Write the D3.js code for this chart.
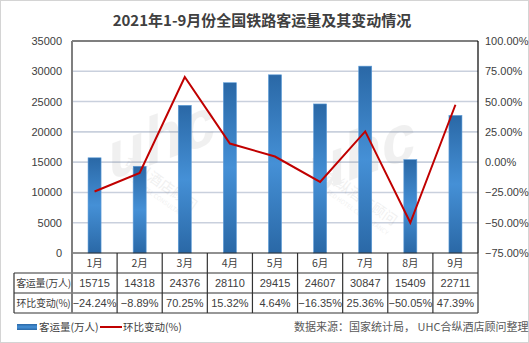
<!DOCTYPE html>
<html>
<head>
<meta charset="utf-8">
<script src="https://cdn.jsdelivr.net/npm/d3@7/dist/d3.min.js"></script>
<style>
  html, body { margin: 0; padding: 0; background: #fff; }
  svg { display: block; font-family: "Noto Sans CJK SC", "Noto Sans", sans-serif; }
</style>
</head>
<body>
<svg id="chart" width="529" height="343"></svg>
<script>
// Monthly national railway passenger volume, Jan–Sep 2021
const months = ["1月", "2月", "3月", "4月", "5月", "6月", "7月", "8月", "9月"];
const volume = [15715, 14318, 24376, 28110, 29415, 24607, 30847, 15409, 22711];
const change = [-24.24, -8.89, 70.25, 15.32, 4.64, -16.35, 25.36, -50.05, 47.39];
const leftTicks = [0, 5000, 10000, 15000, 20000, 25000, 30000, 35000];
const rightTicks = [-75, -50, -25, 0, 25, 50, 75, 100];
const seriesNames = ["客运量(万人)", "环比变动(%)"];
const title = "2021年1-9月份全国铁路客运量及其变动情况";
const source = "数据来源：国家统计局， UHC合纵酒店顾问整理";

const svg = d3.select("#chart");
const W = 529, H = 343;
const plot = { left: 72, right: 478, top: 41, bottom: 253 };
const tableLeft = 14, rowH = 20;
const textColor = "#404040";
const numFont = "'Liberation Sans', Arial, sans-serif";

// outer frame
svg.append("rect").attr("x", 0.5).attr("y", 0.5).attr("width", W - 1).attr("height", H - 1)
  .attr("fill", "#fff").attr("stroke", "#d4d4d4");

const defs = svg.append("defs");
const grad = defs.append("linearGradient").attr("id", "barGrad")
  .attr("x1", 0).attr("y1", 0).attr("x2", 0).attr("y2", 1);
grad.append("stop").attr("offset", "0%").attr("stop-color", "#2a68a6");
grad.append("stop").attr("offset", "50%").attr("stop-color", "#4590d6");
grad.append("stop").attr("offset", "100%").attr("stop-color", "#2a68a6");

const x = d3.scaleBand().domain(months).range([plot.left, plot.right]).paddingInner(0).paddingOuter(0);
const yL = d3.scaleLinear().domain([0, 35000]).range([plot.bottom, plot.top]);
const yR = d3.scaleLinear().domain([-75, 100]).range([plot.bottom, plot.top]);

// title
svg.append("text").attr("x", 262).attr("y", 26).attr("text-anchor", "middle")
  .attr("font-size", 15).attr("font-weight", "bold").attr("fill", textColor).text(title);

// horizontal gridlines
svg.append("g").selectAll("line").data(leftTicks.filter(d => d > 0 && d < 35000)).join("line")
  .attr("x1", plot.left).attr("x2", plot.right)
  .attr("y1", d => yL(d)).attr("y2", d => yL(d))
  .attr("stroke", "#c9d0dd").attr("stroke-width", 1.6);

// faint watermark marks
function watermark(cx, cy) {
  const g = svg.append("g").attr("transform", `translate(${cx},${cy})`).attr("opacity", 0.09);
  g.append("text").attr("text-anchor", "middle").attr("font-size", 64).attr("font-style", "italic")
    .attr("font-weight", "bold").attr("font-family", numFont)
    .attr("fill", "#666").attr("transform", "rotate(-20) skewX(-10)").text("uhc");
  const s = g.append("g").attr("transform", "rotate(35)");
  s.append("text").attr("x", 10).attr("y", 26).attr("text-anchor", "middle").attr("font-size", 14)
    .attr("fill", "#666").text("合纵酒店顾问");
  s.append("text").attr("x", 10).attr("y", 37).attr("text-anchor", "middle").attr("font-size", 6)
    .attr("fill", "#666").text("UNITED HOTEL CONSULTANCY");
}
watermark(165, 160);
watermark(365, 175);

// bars
const barW = 13;
svg.append("g").selectAll("rect").data(months).join("rect")
  .attr("x", d => x(d) + x.bandwidth() / 2 - barW / 2)
  .attr("width", barW)
  .attr("y", (d, i) => yL(volume[i]))
  .attr("height", (d, i) => plot.bottom - yL(volume[i]))
  .attr("fill", "url(#barGrad)")
  .attr("stroke", "#5b9bd8").attr("stroke-width", 0.6);

// month-on-month change line
const line = d3.line().x((d, i) => x(months[i]) + x.bandwidth() / 2).y(d => yR(d));
svg.append("path").datum(change).attr("d", line)
  .attr("fill", "none").attr("stroke", "#c00000").attr("stroke-width", 2).attr("stroke-linejoin", "miter");

// plot frame: top and right black, left axis gray
svg.append("line").attr("x1", plot.left).attr("x2", plot.right).attr("y1", plot.top).attr("y2", plot.top)
  .attr("stroke", "#000").attr("stroke-width", 1.2);
svg.append("line").attr("x1", plot.right).attr("x2", plot.right).attr("y1", plot.top).attr("y2", plot.bottom)
  .attr("stroke", "#000").attr("stroke-width", 1.2);

// left axis
const axL = svg.append("g").attr("transform", `translate(${plot.left - 10},0)`)
  .call(d3.axisLeft(yL).tickValues(leftTicks).tickSize(0).tickPadding(0).tickFormat(d3.format("d")));
axL.select(".domain").remove();
axL.selectAll("text").attr("font-size", 11).attr("fill", textColor).attr("font-family", numFont);

// right axis
const axR = svg.append("g").attr("transform", `translate(${plot.right + 7},0)`)
  .call(d3.axisRight(yR).tickValues(rightTicks).tickSize(0).tickPadding(0).tickFormat(d => d3.format(".2f")(d) + "%"));
axR.select(".domain").remove();
axR.selectAll("text").attr("font-size", 11).attr("fill", textColor).attr("font-family", numFont);

// data table beneath the plot
const tTop = plot.bottom;
const tbl = svg.append("g");
const rows = [
  { label: null, vals: months },
  { label: seriesNames[0], vals: volume.map(String) },
  { label: seriesNames[1], vals: change.map(v => d3.format(".2f")(v) + "%") }
];
rows.forEach((r, ri) => {
  const cy = tTop + ri * rowH + rowH / 2;
  tbl.append("g").selectAll("text").data(r.vals).join("text")
    .attr("x", (d, i) => x(months[i]) + x.bandwidth() / 2)
    .attr("y", cy).attr("dy", "0.36em").attr("text-anchor", "middle")
    .attr("font-size", ri === 0 ? 10.5 : 11).attr("fill", textColor)
    .attr("font-family", ri === 0 ? null : numFont).text(d => d);
  if (r.label) {
    tbl.append("text").attr("x", (tableLeft + plot.left) / 2 + 0.5).attr("y", cy).attr("dy", "0.36em")
      .attr("text-anchor", "middle").attr("font-size", 10).attr("fill", textColor)
      .attr("letter-spacing", -0.3).text(r.label);
  }
});
// table grid
const gridColor = "#333";
[1, 2, 3].forEach(k => {
  tbl.append("line").attr("x1", tableLeft).attr("x2", plot.right)
    .attr("y1", tTop + k * rowH).attr("y2", tTop + k * rowH)
    .attr("stroke", gridColor).attr("stroke-width", 1.2);
});
tbl.append("line").attr("x1", tableLeft).attr("x2", tableLeft)
  .attr("y1", tTop + rowH).attr("y2", tTop + 3 * rowH).attr("stroke", gridColor).attr("stroke-width", 1.2);
months.slice(1).forEach(m => {
  tbl.append("line").attr("x1", x(m)).attr("x2", x(m))
    .attr("y1", tTop).attr("y2", tTop + 3 * rowH).attr("stroke", gridColor).attr("stroke-width", 1.2);
});
tbl.append("line").attr("x1", plot.right).attr("x2", plot.right)
  .attr("y1", tTop).attr("y2", tTop + 3 * rowH).attr("stroke", gridColor).attr("stroke-width", 1.2);
// category baseline
tbl.append("line").attr("x1", plot.left).attr("x2", plot.right).attr("y1", tTop).attr("y2", tTop)
  .attr("stroke", "#222").attr("stroke-width", 1.2);
// left value axis line, continuing through the table
svg.append("line").attr("x1", plot.left).attr("x2", plot.left).attr("y1", plot.top).attr("y2", tTop + 3 * rowH)
  .attr("stroke", "#7f7f7f").attr("stroke-width", 2);

// legend
const lgY = 327;
svg.append("rect").attr("x", 17).attr("y", lgY - 3).attr("width", 20).attr("height", 6).attr("fill", "url(#barGrad)");
svg.append("text").attr("x", 39).attr("y", lgY).attr("dy", "0.36em").attr("font-size", 10.5)
  .attr("fill", textColor).text(seriesNames[0]);
svg.append("line").attr("x1", 100).attr("x2", 122).attr("y1", lgY).attr("y2", lgY)
  .attr("stroke", "#c00000").attr("stroke-width", 2);
svg.append("text").attr("x", 123).attr("y", lgY).attr("dy", "0.36em").attr("font-size", 10.5)
  .attr("fill", textColor).text(seriesNames[1]);
svg.append("text").attr("x", 294).attr("y", lgY).attr("dy", "0.36em").attr("font-size", 11)
  .attr("fill", "#595959").text(source);
</script>
</body>
</html>
